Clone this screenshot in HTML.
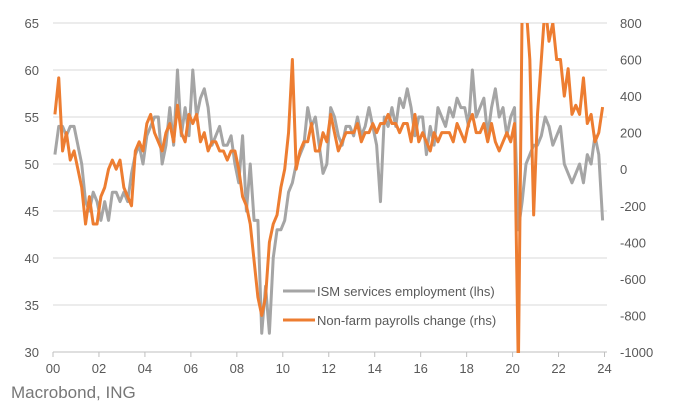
<!DOCTYPE html>
<html><head><meta charset="utf-8"><style>
html,body{margin:0;padding:0;background:#fff;width:679px;height:415px;overflow:hidden;font-family:"Liberation Sans",sans-serif}
svg{position:absolute;left:0;top:0;display:block}
</style></head><body>
<svg id="chart" width="679" height="415" xmlns="http://www.w3.org/2000/svg">
<defs><clipPath id="plotclip"><rect x="50" y="23" width="560" height="330"/></clipPath></defs>
<g id="grid"></g><g id="axes"></g><g id="series" clip-path="url(#plotclip)"></g>
<g>
<line x1="283" y1="291" x2="315" y2="291" stroke="#A5A5A5" stroke-width="3"/>
<text x="317" y="296" font-size="13" fill="#595959">ISM services employment (lhs)</text>
<line x1="283" y1="320" x2="315" y2="320" stroke="#ED7D31" stroke-width="3"/>
<text x="317" y="325" font-size="13" fill="#595959">Non-farm payrolls change (rhs)</text>
</g>
<text x="11" y="398" font-size="17" fill="#777">Macrobond, ING</text>
</svg>
<script>
const leftTicks=[65,60,55,50,45,40,35,30];
const rightTicks=[800,600,400,200,0,-200,-400,-600,-800,-1000];
const xTicks=["00","02","04","06","08","10","12","14","16","18","20","22","24"];
const ism=[51,54,54,53,54,54, 52,50,46,45,47,46, 44,46,44,47,47,46, 47,46,49,51,52,50, 53,54,55,55,50,52, 56,52,60,53,56,53, 60,55,57,58,56,52, 53,54,52,52,53,50, 48,53,45,50,44,44, 32,37,32,40,43,43, 44,47,48,50,51,52, 56,54,55,52,49,50, 56,55,53,52,54,54, 53,55,53,54,56,54, 52,46,55,54,56,54, 57,56,58,56,53,55, 55,51,54,52,56,55, 54,56,55,57,56,56, 54,60,55,56,57,53, 56,58,55,56,53,55, 56,43,46,50,51,52, 52,53,55,54,52,53, 54,50,49,48,49,50, 48,51,50,53,51,44];
const nfp=[300,500,100,200,50,100, 0,-100,-300,-150,-300,-300, -150,-100,0,50,0,50, -100,-150,-200,100,150,100, 250,300,200,150,100,200, 250,150,350,200,150,300, 250,300,150,200,100,150, 150,100,100,50,100,100, 0,-150,-200,-300,-500,-700, -800,-700,-400,-300,-250,-100, 0,200,600,0,100,150, 150,250,100,100,200,150, 300,200,100,150,200,200, 200,250,150,200,200,250, 200,250,250,300,250,250, 200,250,250,150,300,150, 200,150,100,200,150,200, 200,200,150,250,200,150, 250,300,200,200,250,150, 250,150,100,150,200,150, 250,-20000,4000,1500,600,-250, 300,600,900,700,800,600, 600,400,550,300,350,300, 500,250,300,150,200,340];
const X0=53,YR=22.98,YT=23,YB=352,PR=607;
const xs=i=>X0+(i/6+1/12)*YR;
const yl=v=>YT+(65-v)/35*(YB-YT);
const yr=v=>{const c=Math.max(-1100,Math.min(900,v));return YT+(800-c)/1800*(YB-YT);};
const NS="http://www.w3.org/2000/svg";
function mk(t,a,p){const e=document.createElementNS(NS,t);for(const k in a)e.setAttribute(k,a[k]);p.appendChild(e);return e;}
const grid=document.getElementById('grid'),axes=document.getElementById('axes'),ser=document.getElementById('series');
leftTicks.forEach(v=>{
 const l=mk('line',{x1:X0,x2:PR,y1:yl(v),y2:yl(v),stroke:v===30?'#bfbfbf':'#d9d9d9','stroke-width':1},grid);
 
 
 const t=mk('text',{x:39,y:yl(v)+5,'font-size':13,fill:'#595959','text-anchor':'end'},axes);t.textContent=v;
 
 
});
rightTicks.forEach(v=>{
 const t=mk('text',{x:620,y:yr(v)+5,'font-size':13,fill:'#595959'},axes);t.textContent=v;
 
 
});
xTicks.forEach((s,i)=>{
 const x=X0+i*2*YR;
 mk('line',{x1:x,x2:x,y1:YB,y2:YB+5,stroke:'#bfbfbf'},axes);
 const t=mk('text',{x:x,y:373,'font-size':13,fill:'#595959','text-anchor':'middle'},axes);t.textContent=s;
 
 
});
const g=mk('polyline',{points:ism.map((v,i)=>xs(i)+','+yl(v)).join(' '),fill:'none',stroke:'#A5A5A5','stroke-width':3,'stroke-linejoin':'round'},ser);


const o=mk('polyline',{points:nfp.map((v,i)=>xs(i)+','+yr(v)).join(' '),fill:'none',stroke:'#ED7D31','stroke-width':3,'stroke-linejoin':'round'},ser);


</script>
</body></html>
